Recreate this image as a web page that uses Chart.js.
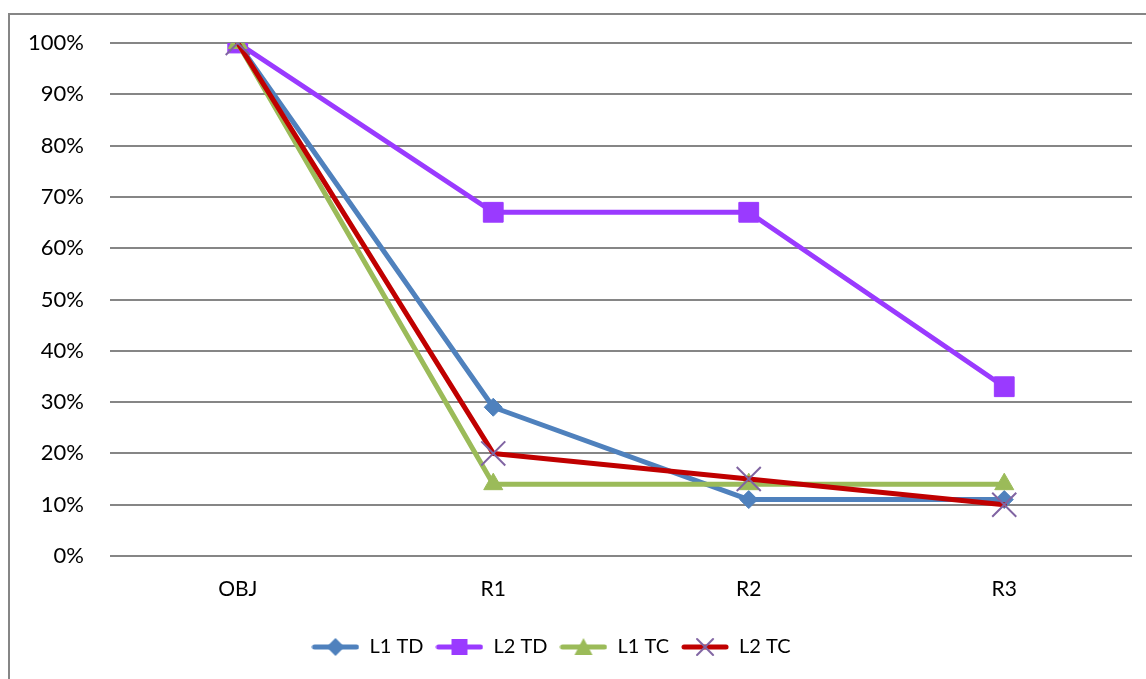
<!DOCTYPE html>
<html>
<head>
<meta charset="utf-8">
<script src="https://cdn.jsdelivr.net/npm/chart.js@4"></script>
<style>
  html, body { margin: 0; padding: 0; background: #fff; overflow: hidden; }
  #frame { position: absolute; left: 8px; top: 13px; width: 1200px; height: 720px; border: 2px solid #868686; box-sizing: border-box; }
  #wrap { position: absolute; left: 0; top: 0; width: 1146px; height: 679px; }
</style>
</head>
<body>
<div id="frame"></div>
<div id="wrap"><canvas id="c" width="1146" height="679"></canvas></div>
<script>
const categories = ['OBJ', 'R1', 'R2', 'R3'];
const seriesNames = ['L1 TD', 'L2 TD', 'L1 TC', 'L2 TC'];
const l1TD = [100, 29, 11, 11];
const l2TD = [100, 67, 67, 33];
const l1TC = [100, 14, 14, 14];
const l2TC = [100, 20, 15, 10];
const yTicks = [0, 10, 20, 30, 40, 50, 60, 70, 80, 90, 100];

const FONT = 'Lato, "Open Sans", sans-serif';
const colors = ['#4F81BD', '#9A3AFF', '#9BBB59', '#C00000'];
const markerFill = ['#4F81BD', '#9A3AFF', '#9BBB59', '#8064A2'];
const styles = ['rectRot', 'rect', 'triangle', 'crossRot'];
const radii = [9, 14, 11, 17];

function legendImage(i) {
  const cv = document.createElement('canvas');
  cv.width = 48; cv.height = 26;
  const ctx = cv.getContext('2d');
  ctx.strokeStyle = colors[i];
  ctx.lineWidth = 5;
  ctx.lineCap = 'round';
  ctx.beginPath(); ctx.moveTo(3, 13); ctx.lineTo(45, 13); ctx.stroke();
  const cx = 24, cy = 13;
  ctx.fillStyle = markerFill[i];
  ctx.strokeStyle = markerFill[i];
  ctx.beginPath();
  if (i === 0) { ctx.moveTo(cx, cy - 9); ctx.lineTo(cx + 9, cy); ctx.lineTo(cx, cy + 9); ctx.lineTo(cx - 9, cy); ctx.closePath(); ctx.fill(); }
  else if (i === 1) { ctx.rect(cx - 8, cy - 8, 16, 16); ctx.fill(); }
  else if (i === 2) { ctx.moveTo(cx, cy - 9); ctx.lineTo(cx + 9, cy + 8); ctx.lineTo(cx - 9, cy + 8); ctx.closePath(); ctx.fill(); }
  else { ctx.lineWidth = 2; ctx.moveTo(cx - 8, cy - 8); ctx.lineTo(cx + 8, cy + 8); ctx.moveTo(cx + 8, cy - 8); ctx.lineTo(cx - 8, cy + 8); ctx.stroke(); }
  return cv;
}
const legendImgs = [0, 1, 2, 3].map(legendImage);

const seriesData = [l1TD, l2TD, l1TC, l2TC];
const datasets = seriesData.map((d, i) => ({
  label: seriesNames[i],
  data: d,
  borderColor: colors[i],
  backgroundColor: colors[i],
  borderWidth: 5,
  borderJoinStyle: 'round',
  borderCapStyle: 'round',
  pointStyle: styles[i],
  pointRadius: radii[i],
  pointHoverRadius: radii[i],
  pointBackgroundColor: markerFill[i],
  pointBorderColor: markerFill[i],
  pointBorderWidth: i === 3 ? 2 : 1,
  tension: 0,
  order: 4 - i
}));

new Chart(document.getElementById('c'), {
  type: 'line',
  data: { labels: categories, datasets },
  options: {
    responsive: false,
    animation: false,
    devicePixelRatio: 1,
    layout: { autoPadding: false, padding: { left: -30, right: 14, top: 43, bottom: 12 } },
    plugins: {
      tooltip: { enabled: false },
      legend: {
        position: 'bottom',
        labels: {
          usePointStyle: true,
          pointStyleWidth: 48,
          boxHeight: 20,
          padding: 12,
          color: '#000',
          font: { family: FONT, size: 20 },
          generateLabels: () => seriesNames.map((n, i) => ({
            text: n, pointStyle: legendImgs[i], fillStyle: colors[i], strokeStyle: colors[i],
            lineWidth: 0, hidden: false, datasetIndex: i, fontColor: '#000'
          }))
        }
      }
    },
    scales: {
      x: {
        offset: true,
        grid: { display: false, drawTicks: false },
        border: { display: false },
        ticks: { color: '#000', padding: 21, font: { family: FONT, size: 21 } },
        afterFit: s => { s.height = 69; }
      },
      y: {
        min: 0, max: 100,
        afterBuildTicks: s => { s.ticks = yTicks.map(v => ({ value: v })); },
        grid: { color: '#868686', lineWidth: 2, drawTicks: false },
        border: { display: false },
        ticks: { color: '#000', padding: 26, font: { family: FONT, size: 22 }, callback: v => v + '%' },
        afterFit: s => { s.width = 140; }
      }
    }
  }
});
</script>
</body>
</html>
